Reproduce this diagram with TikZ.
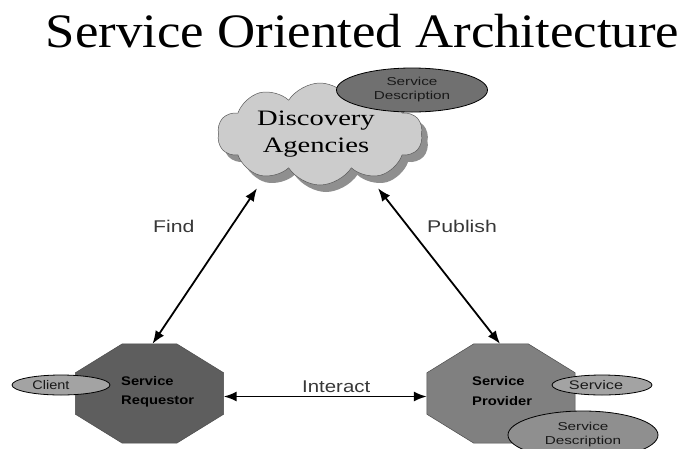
\documentclass[tikz,border=0pt]{standalone}
\usepackage{fontspec}
\setmainfont{Liberation Serif}
\setsansfont{Liberation Sans}
\usetikzlibrary{shapes.geometric,shapes.symbols,arrows.meta}

\definecolor{octdark}{gray}{0.37}
\definecolor{octmid}{gray}{0.50}
\definecolor{ovlight}{gray}{0.64}
\definecolor{ovdark}{gray}{0.44}
\definecolor{ovmid}{gray}{0.56}
\definecolor{cloudfill}{gray}{0.80}
\definecolor{cloudshade}{gray}{0.56}
\definecolor{labelgray}{gray}{0.22}

% horizontally widened text
\newcommand\widetext[2]{\scalebox{#1}[1]{#2}}

% octagon drawn inside the rectangle of a named box node
\newcommand\octagonfill[2]{%
  \filldraw[#2] ([xshift=47]#1.north west) -- ([xshift=-47]#1.north east)
    -- ([yshift=-29]#1.north east) -- ([yshift=29]#1.south east)
    -- ([xshift=-47]#1.south east) -- ([xshift=47]#1.south west)
    -- ([yshift=29]#1.south west) -- ([yshift=-29]#1.north west) -- cycle;}

\tikzset{
  octbox/.style={rectangle, draw=none, inner sep=0pt, minimum width=148pt, minimum height=99pt},
  puff/.style={cloud, cloud puffs=10, cloud puff arc=115, cloud ignores aspect,
    minimum width=205pt, minimum height=102pt, inner sep=0pt},
  oval/.style={ellipse, draw=black, line width=0.8pt, inner sep=0pt, align=center},
  smalltxt/.style={font=\sffamily\fontsize{11.5}{14}\selectfont, text=black!90},
  tagtxt/.style={font=\sffamily\fontsize{12.5}{15}\selectfont, text=black!90},
  rolelbl/.style={font=\sffamily\bfseries\fontsize{12.5}{19.5}\selectfont, align=left, inner sep=0pt},
  edgelbl/.style={font=\sffamily\fontsize{17}{20}\selectfont, text=labelgray, inner sep=0pt},
  link/.style={{Latex[length=13pt,width=10pt]}-{Latex[length=13pt,width=10pt]}, line width=1.8pt, black},
}

\begin{document}
\begin{tikzpicture}[x=1pt, y=-1pt]
\useasboundingbox (0,0) rectangle (693,448);
\clip (0,0) rectangle (693,448);

% title
\node[anchor=base, inner sep=0pt, font=\fontsize{48}{56}\selectfont] (title) at (362.5,47)
  {\widetext{1.1}{Service Oriented Architecture}};

% discovery cloud with its shade
\node[puff, fill=cloudshade] (agencyshade) at (326,141) {};
\node[puff, fill=cloudfill, draw=gray!70!black, line width=0.5pt] (agency) at (320,134) {};
\node[inner sep=0pt, align=center, font=\fontsize{22}{27}\selectfont] (agencytext) at (316,134)
  {\widetext{1.3}{Discovery}\\\widetext{1.3}{Agencies}};
\node[oval, fill=ovdark, minimum width=151pt, minimum height=44pt, smalltxt] (regdesc) at (412,90)
  {\widetext{1.33}{Service}\\\widetext{1.33}{Description}};

% requestor and provider octagons
\node[octbox] (req) at (149.5,393.5) {};
\node[octbox] (prov) at (501,393.5) {};
\octagonfill{req}{fill=octdark, draw=black!70, line width=0.5pt}
\octagonfill{prov}{fill=octmid, draw=black!70, line width=0.5pt}
\node[rolelbl, anchor=base west] (reqtext) at (121,404.5)
  {\widetext{1.18}{Service}\\\widetext{1.18}{Requestor}};
\node[rolelbl, anchor=base west] (provtext) at (472,405)
  {\widetext{1.18}{Service}\\\widetext{1.18}{Provider}};

% ovals attached to the octagons
\node[oval, fill=ovlight, minimum width=98pt, minimum height=20pt, tagtxt] (client) at (61,385)
  {\hspace*{-20pt}\widetext{1.16}{Client}};
\node[oval, fill=ovlight, minimum width=100pt, minimum height=20pt, tagtxt] (svc) at (602,385)
  {\hspace*{-12pt}\widetext{1.3}{Service}};
\node[oval, fill=ovmid, minimum width=150pt, minimum height=48pt, smalltxt] (provdesc) at (583,435)
  {\widetext{1.33}{Service}\\\widetext{1.33}{Description}};

% connectors
\draw[link] ([xshift=-63,yshift=-3]agency.south) -- ([xshift=3]req.north);
\draw[link] ([xshift=58,yshift=-3]agency.south) -- ([xshift=-1]prov.north);
\draw[link] ([yshift=-3]req.east) -- ([yshift=-3]prov.west);

% connector labels
\node[edgelbl, anchor=base west] (findlbl) at (153,232) {\widetext{1.25}{Find}};
\node[edgelbl, anchor=base west] (publbl) at (427,232) {\widetext{1.25}{Publish}};
\node[edgelbl, anchor=base west] (intlbl) at (302,392) {\widetext{1.2}{Interact}};
\end{tikzpicture}
\end{document}
